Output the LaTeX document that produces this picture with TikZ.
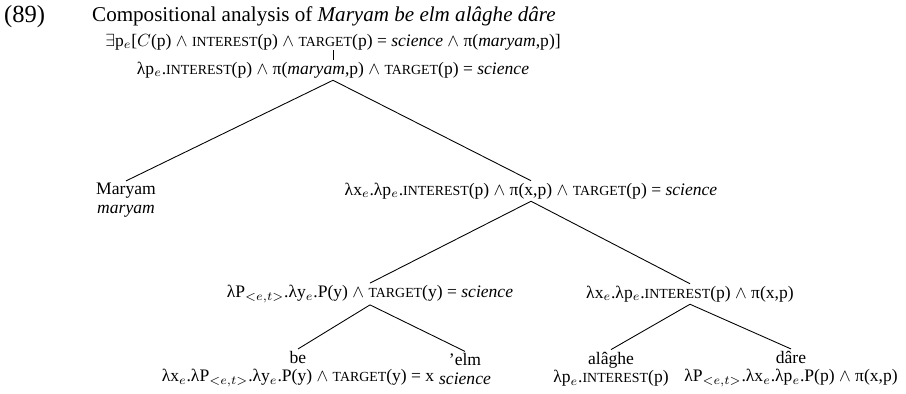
\documentclass[tikz,border=0pt]{standalone}
\usepackage{fontspec}
\setmainfont{Liberation Serif}
\newcommand{\fsc}[1]{{\fontsize{7.9}{9}\selectfont #1}}
\begin{document}
\begin{tikzpicture}[x=0.02cm,y=-0.02cm,line width=0.5pt,
  every node/.style={font=\fontsize{10}{10.5}\selectfont,inner sep=1pt},
  leaf/.style={align=center}]
\useasboundingbox (0,0) rectangle (906,394);
\node[anchor=base west,font=\fontsize{14}{14}\selectfont] (ex) at (2,23) {(89)};
\node[anchor=base west,font=\fontsize{12}{12}\selectfont] (title) at (90,22) {Compositional analysis of \textit{Maryam be elm alâghe dâre}};
\node[inner sep=0pt] (top) at (333,42) {$\exists$p$_e$[$C$(p) $\wedge$ \fsc{INTEREST}(p) $\wedge$ \fsc{TARGET}(p) = \textit{science} $\wedge$ π(\textit{maryam},p)]};
\node (root) at (333,70) {λp$_e$.\fsc{INTEREST}(p) $\wedge$ π(\textit{maryam},p) $\wedge$ \fsc{TARGET}(p) = \textit{science}};
\draw (top.south) -- (root.north);
\node[leaf] (maryam) at (126,200) {Maryam\\\textit{maryam}};
\node (vp) at (531,191) {λx$_e$.λp$_e$.\fsc{INTEREST}(p) $\wedge$ π(x,p) $\wedge$ \fsc{TARGET}(p) = \textit{science}};
\draw (root.south) -- (maryam.north);
\draw (root.south) -- (vp.north);
\node (pp) at (370,294) {λP$_{<e,t>}$.λy$_e$.P(y) $\wedge$ \fsc{TARGET}(y) = \textit{science}};
\node (vbar) at (690,294) {λx$_e$.λp$_e$.\fsc{INTEREST}(p) $\wedge$ π(x,p)};
\draw (vp.south) -- (pp.north);
\draw (vp.south) -- (vbar.north);
\node[leaf] (be) at (298,369) {be\\λx$_e$.λP$_{<e,t>}$.λy$_e$.P(y) $\wedge$ \fsc{TARGET}(y) = x};
\node[leaf] (elm) at (465,369) {’elm\\\textit{science}};
\draw (pp.south) -- (be.north);
\draw (pp.south) -- (elm.north);
\node[leaf] (alaghe) at (611,369) {alâghe\\λp$_e$.\fsc{INTEREST}(p)};
\node[leaf] (dare) at (791,369) {dâre\\λP$_{<e,t>}$.λx$_e$.λp$_e$.P(p) $\wedge$ π(x,p)};
\draw (vbar.south) -- (alaghe.north);
\draw (vbar.south) -- (dare.north);
\end{tikzpicture}
\end{document}
